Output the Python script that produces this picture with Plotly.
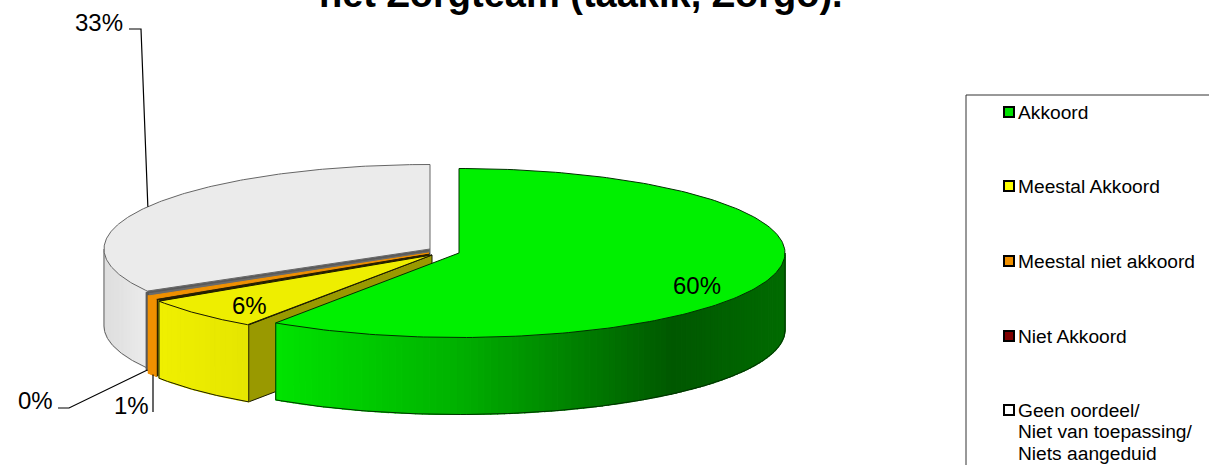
import numpy as np
import plotly.graph_objects as go

# ---- data ----
categories = ["Akkoord", "Meestal Akkoord", "Meestal niet akkoord", "Niet Akkoord", "Geen oordeel"]
values = [59.5, 6.3, 0.7, 0.2, 33.3]
legend_labels = [["Akkoord"], ["Meestal Akkoord"], ["Meestal niet akkoord"], ["Niet Akkoord"],
                 ["Geen oordeel/", "Niet van toepassing/", "Niets aangeduid"]]
title_text = "het Zorgteam (taakik, Zorgo)."

# ---- styling / geometry ----
top_colors = ["#00f000", "#eeee00", "#f09000", "#5a5a5a", "#ebebeb"]
cut_colors = ["#006400", "#999900", "#2a2000", "#400000", "#6a6a6a"]
edge_colors = ["#003000", "#1a1a00", "#f09000", "#5a5a5a", "#666666"]
swatch_colors = ["#00e000", "#ffff00", "#f09000", "#7f0000", "#ffffff"]
centers = [(459, 253), (432, 255), (429, 253), (429, 250.5), (430, 249)]
RX, RY, DEPTH = 326, 84.5, 77
label_pos = [(697, 285), (249, 305), (131, 405), (35, 400), (99, 22)]
legend_y = [112, 186, 261, 336, 410]
FONT = "Liberation Sans, Arial, sans-serif"

fig = go.Figure()


def pt(c, th, dz=0.0):
    t = np.radians(th)
    return c[0] + RX * np.sin(t), c[1] - RY * np.cos(t) + dz


def poly(xs, ys, fill, line=None, width=1):
    fig.add_trace(go.Scatter(x=list(xs), y=list(ys), mode="lines", fill="toself", fillcolor=fill,
                             line=dict(color=line or fill, width=width if line else 1.2),
                             showlegend=False, hoverinfo="skip"))


def stroke(xs, ys, color, width=1):
    fig.add_trace(go.Scatter(x=list(xs), y=list(ys), mode="lines", line=dict(color=color, width=width),
                             showlegend=False, hoverinfo="skip"))


def lerp(stops, x):
    fs = [s[0] for s in stops]
    return "rgb(%d,%d,%d)" % tuple(np.interp(x, fs, [s[1][k] for s in stops]) for k in range(3))


wall_stops = [
    [(276, (0, 228, 0)), (450, (0, 180, 0)), (673, (0, 88, 0)), (785, (0, 108, 0))],
    [(158, (240, 240, 0)), (248, (230, 230, 0))],
    [(140, (240, 144, 0)), (160, (240, 144, 0))],
    [(140, (90, 90, 90)), (160, (90, 90, 90))],
    [(104, (222, 222, 222)), (148, (236, 236, 236))],
]

bounds = np.concatenate([[0], np.cumsum(values)]) / sum(values) * 360
for i in [4, 3, 2, 1, 0]:
    c, a0, a1 = centers[i], bounds[i], bounds[i + 1]
    # cut face from the centre to the clockwise-first edge of the slice
    if i in (1, 2, 4):
        xr, yr = pt(c, a0)
        poly([xr, c[0], c[0], xr, xr], [yr, c[1], c[1] + DEPTH, yr + DEPTH, yr],
             cut_colors[i], cut_colors[i] if i == 2 else edge_colors[i])
    # front wall, in vertical strips
    lo, hi = max(a0, 90), min(a1, 270)
    if hi > lo:
        ths = np.linspace(lo, hi, max(2, int((hi - lo) / 1.2)) + 1)
        for t0, t1 in zip(ths[:-1], ths[1:]):
            xa, ya = pt(c, t0)
            xb, yb = pt(c, t1)
            poly([xa, xb, xb, xa, xa], [ya, yb, yb + DEPTH, ya + DEPTH, ya],
                 lerp(wall_stops[i], (xa + xb) / 2))
        px, py = pt(c, np.linspace(lo, hi, 120))
        stroke(px, py + DEPTH, edge_colors[i])
        stroke([px[0], px[0]], [py[0], py[0] + DEPTH], edge_colors[i])
        stroke([px[-1], px[-1]], [py[-1], py[-1] + DEPTH], edge_colors[i])
    # top face
    px, py = pt(c, np.linspace(a0, a1, 200))
    poly([c[0], *px, c[0]], [c[1], *py, c[1]], top_colors[i], edge_colors[i])

# leader lines anchored on the slices' mid-angle
mid = (bounds[:-1] + bounds[1:]) / 2
gx, gy = pt(centers[4], mid[4])
ox, oy = pt(centers[2], mid[2], DEPTH)
dx, dy = pt(centers[3], mid[3], DEPTH)
for lx, ly in [([129, 141, gx], [29, 29, gy]), ([58, 69, dx], [408, 408, dy]), ([153, 153], [oy, 412])]:
    stroke(lx, ly, "#000000", 1.2)

ann = []
for v, (x, y) in zip(values, label_pos):
    ann.append(dict(x=x, y=y, text=f"{round(v)}%", showarrow=False, xanchor="center", yanchor="middle",
                    font=dict(size=24, color="#000000", family=FONT)))

ann.append(dict(x=581, yref="paper", y=1, yshift=6, text=f"<b>{title_text}</b>", showarrow=False,
                xanchor="center", yanchor="middle", font=dict(size=38, color="#000000", family=FONT)))

# legend
fig.add_trace(go.Scatter(x=[1009] * 5, y=legend_y, mode="markers",
                         marker=dict(symbol="square", size=10, color=swatch_colors,
                                     line=dict(color="#000000", width=2)),
                         showlegend=False, hovertext=categories, hoverinfo="text"))
for y, lines in zip(legend_y, legend_labels):
    for k, s in enumerate(lines):
        ann.append(dict(x=1016, y=y + k * 21.7, text=s, showarrow=False, xanchor="left", yanchor="middle",
                        font=dict(size=19.2, color="#000000", family=FONT)))

fig.update_layout(
    width=1209, height=465, margin=dict(l=0, r=0, t=0, b=0), autosize=False,
    paper_bgcolor="white", plot_bgcolor="white",
    xaxis=dict(range=[0, 1209], visible=False, fixedrange=True),
    yaxis=dict(range=[465, 0], visible=False, fixedrange=True),
    annotations=ann,
    shapes=[dict(type="line", x0=966, x1=966, y0=95, y1=465, line=dict(color="#333333", width=1)),
            dict(type="line", x0=966, x1=1209, y0=95, y1=95, line=dict(color="#333333", width=1))],
)
fig.write_html("out.html", config=dict(displayModeBar=False),
               post_script="document.body.style.margin='0';document.body.style.overflow='hidden';")
